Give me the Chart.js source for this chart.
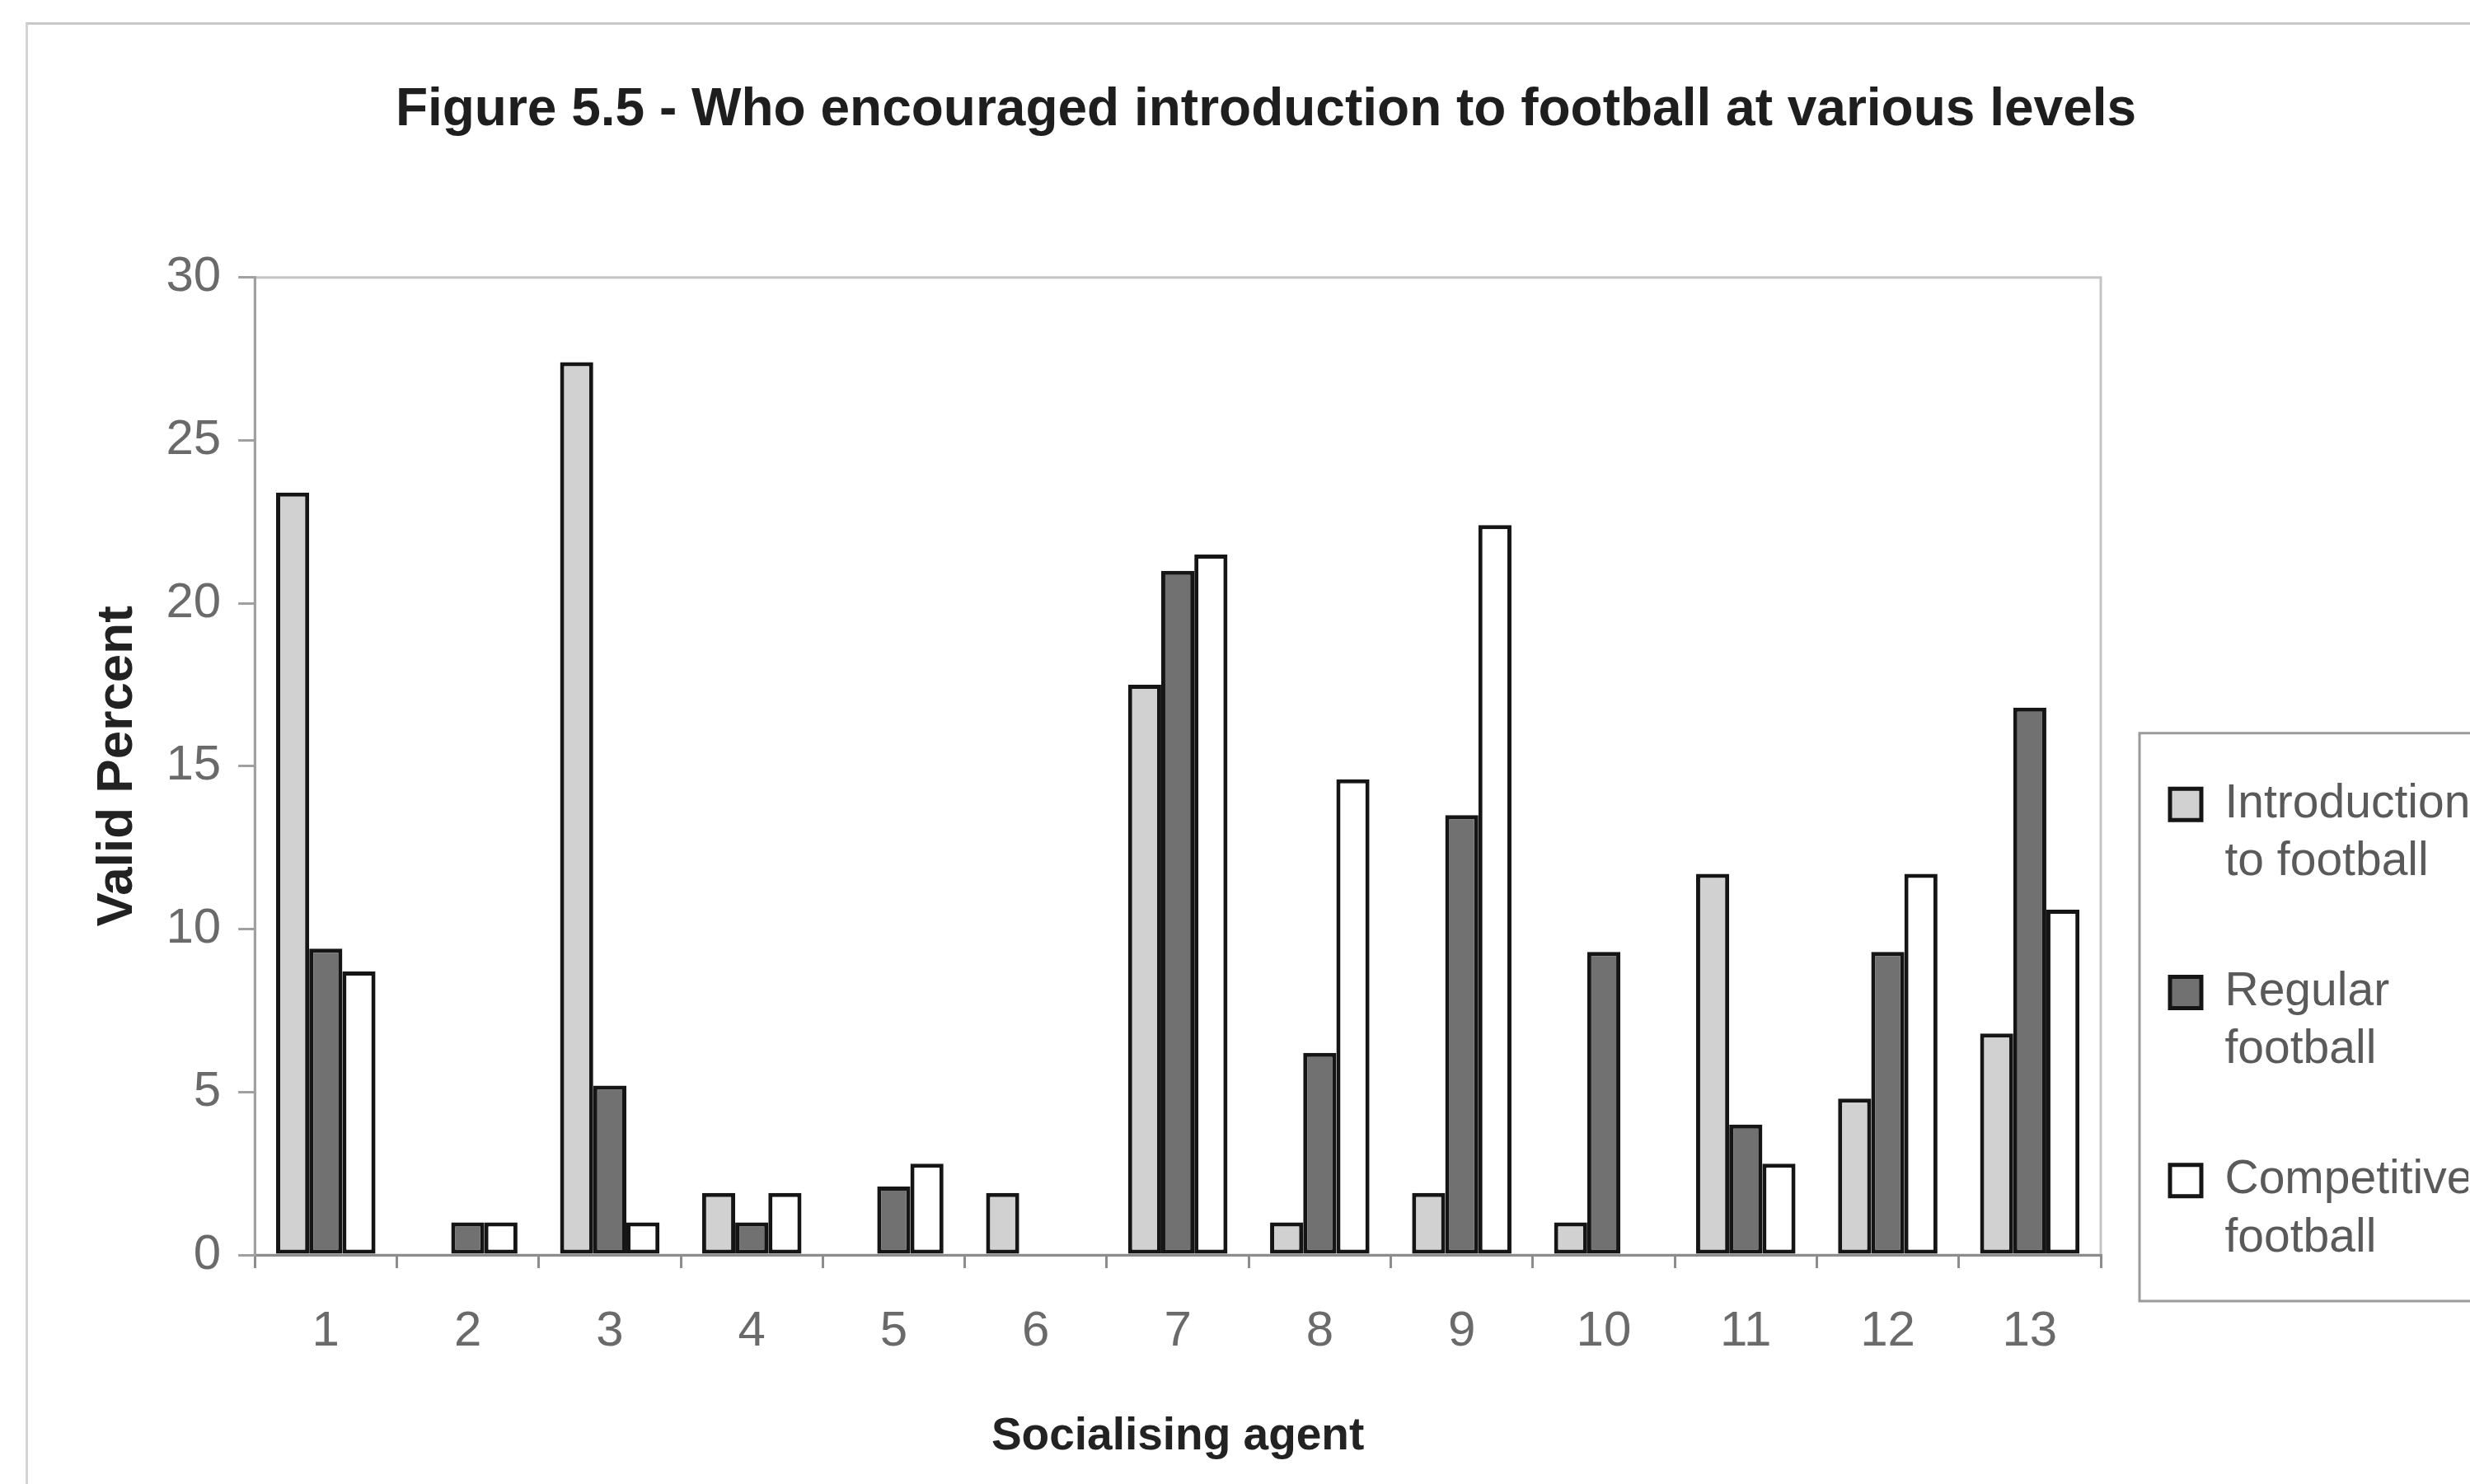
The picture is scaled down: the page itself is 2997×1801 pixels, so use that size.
<!DOCTYPE html>
<html>
<head>
<meta charset="utf-8">
<title>Figure 5.5</title>
<script src="https://cdn.jsdelivr.net/npm/chart.js@4.4.0/dist/chart.umd.min.js"></script>
<style>
  html, body { margin: 0; padding: 0; background: #fff; overflow: hidden; }
  #wrap { position: relative; width: 2997px; height: 1801px; }
  #frame { position: absolute; left: 31px; top: 27px; right: 0; bottom: 0;
           border-top: 3px solid #c8c8c8; border-left: 3px solid #d4d4d4; }
</style>
</head>
<body>
<div id="wrap">
  <div id="frame"></div>
  <canvas id="container"></canvas>
</div>
<script>
// socialising agents 1..13
const agents = ['1', '2', '3', '4', '5', '6', '7', '8', '9', '10', '11', '12', '13'];

// valid percent per level
const introduction = [23.4, 0, 27.4, 1.9, 0, 1.9, 17.5, 1.0, 1.9, 1.0, 11.7, 4.8, 6.8];
const regular      = [9.4, 1.0, 5.2, 1.0, 2.1, 0, 21.0, 6.2, 13.5, 9.3, 4.0, 9.3, 16.8];
const competitive  = [8.7, 1.0, 1.0, 1.9, 2.8, 0, 21.5, 14.6, 22.4, 0, 2.8, 11.7, 10.6];

const seriesNames = [['Introduction', 'to football'], ['Regular', 'football'], ['Competitive', 'football']];
const seriesColors = ['#d1d1d1', '#717171', '#ffffff'];
const yTicks = [0, 5, 10, 15, 20, 25, 30];

const font = "'Liberation Sans', Arial, sans-serif";

// light border round the plot area (top + right show, axes cover the rest)
const plotBorder = {
  id: 'plotBorder',
  beforeDraw(chart) {
    const a = chart.chartArea;
    const ctx = chart.ctx;
    ctx.save();
    ctx.strokeStyle = '#c4c4c4';
    ctx.lineWidth = 3;
    ctx.strokeRect(a.left, a.top, a.right - a.left, a.bottom - a.top);
    ctx.restore();
  }
};

// excel style legend: sits low on the right, boxed, running off the page
const legendBox = {
  id: 'legendBox',
  afterLayout(chart) {
    const lg = chart.legend;
    const a = chart.chartArea;
    lg.left = a.right - 4;
    lg.right = lg.left + 450;
    lg.top = a.top + 523;
    lg.bottom = a.bottom + 93;
  },
  afterDraw(chart) {
    const lg = chart.legend;
    const ctx = chart.ctx;
    const l = lg.left + 51, t = lg.top + 30, b = lg.bottom - 37, r = chart.width + 10;
    ctx.save();
    ctx.strokeStyle = '#9a9a9a';
    ctx.lineWidth = 3;
    ctx.beginPath();
    ctx.moveTo(r, t);
    ctx.lineTo(l, t);
    ctx.lineTo(l, b);
    ctx.lineTo(r, b);
    ctx.stroke();
    ctx.restore();
  }
};

new Chart('container', {
  type: 'bar',
  data: {
    labels: agents,
    datasets: [introduction, regular, competitive].map((vals, i) => ({
      label: seriesNames[i],
      data: vals,
      backgroundColor: seriesColors[i],
      borderColor: '#151515',
      borderWidth: 5,
      borderSkipped: false,
      categoryPercentage: 0.7,
      barPercentage: 1
    }))
  },
  options: {
    responsive: true,
    maintainAspectRatio: false,
    animation: false,
    layout: { padding: { left: 103, right: 28, top: 0, bottom: 0 } },
    plugins: {
      title: {
        display: true,
        text: 'Figure 5.5 - Who encouraged introduction to football at various levels',
        color: '#1e1e1e',
        font: { family: font, size: 64, weight: 'bold' },
        padding: { top: 96, bottom: 164 }
      },
      legend: {
        position: 'right',
        align: 'start',
        fullSize: false,
        maxWidth: 420,
        labels: {
          boxWidth: 38,
          boxHeight: 38,
          padding: 88,
          color: '#5a5a5a',
          font: { family: font, size: 57, lineHeight: 1.23 }
        }
      },
      tooltip: { enabled: false }
    },
    scales: {
      x: {
        grid: { offset: true, drawOnChartArea: false, tickLength: 16, color: '#8c8c8c', lineWidth: 3 },
        border: { color: '#8c8c8c', width: 3 },
        ticks: { color: '#6a6a6a', font: { family: font, size: 60 }, padding: 41, maxRotation: 0 },
        title: {
          display: true,
          text: 'Socialising agent',
          color: '#222',
          font: { family: font, size: 55, weight: 'bold' },
          padding: { top: 18, bottom: 24 }
        }
      },
      y: {
        min: 0,
        max: 30,
        afterBuildTicks: s => { s.ticks = yTicks.map(v => ({ value: v })); },
        grid: { drawOnChartArea: false, tickLength: 20, color: '#a0a0a0', lineWidth: 3 },
        border: { color: '#a0a0a0', width: 3 },
        ticks: { color: '#6a6a6a', font: { family: font, size: 60 }, padding: 21 },
        title: {
          display: true,
          text: 'Valid Percent',
          color: '#222',
          font: { family: font, size: 62, weight: 'bold' },
          padding: { top: 3, bottom: 0 }
        }
      }
    }
  },
  plugins: [plotBorder, legendBox]
});
</script>
</body>
</html>
